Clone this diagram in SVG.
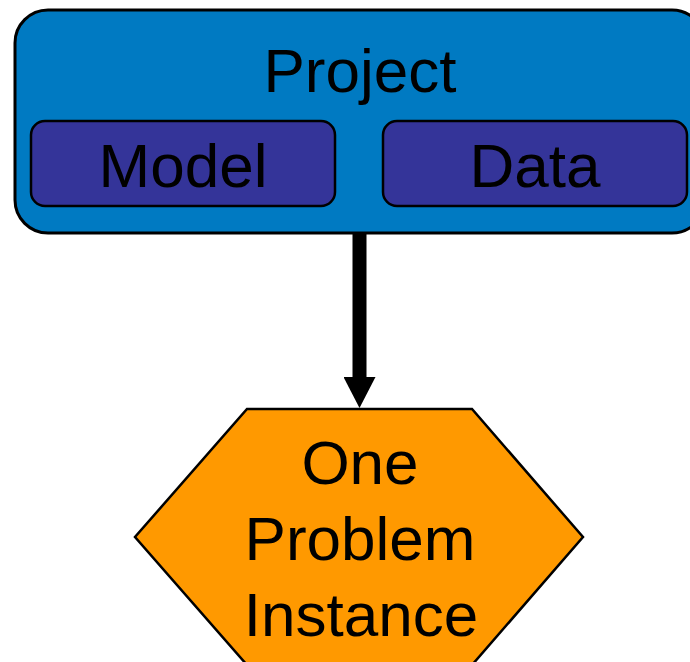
<svg xmlns="http://www.w3.org/2000/svg" width="690" height="662" viewBox="0 0 690 662">
<defs>
<style>
.lbl{font-family:"Liberation Sans",Arial,sans-serif;font-size:62px;fill:#000;text-anchor:middle}
.inner{fill:#343499;stroke:#000;stroke-width:2.5}
</style>
<marker id="ah" viewBox="0 0 31 32" refX="1" refY="16" markerWidth="31" markerHeight="32" markerUnits="userSpaceOnUse" orient="auto">
<path d="M0,0 L31,16 L0,32 Z" fill="#000"/>
</marker>
</defs>
<rect width="690" height="662" fill="#fff"/>
<g id="project">
<rect x="15" y="10" width="690" height="223" rx="33" ry="33" fill="#007AC2" stroke="#000" stroke-width="3"/>
<text class="lbl" x="360" y="92">Project</text>
</g>
<g id="model">
<rect class="inner" x="31" y="121" width="304" height="85" rx="14" ry="14"/>
<text class="lbl" x="183" y="187">Model</text>
</g>
<g id="data">
<rect class="inner" x="383" y="121" width="304" height="85" rx="14" ry="14"/>
<text class="lbl" x="535" y="187">Data</text>
</g>
<g id="connectors">
<line x1="359.5" y1="233" x2="359.5" y2="378" stroke="#000" stroke-width="14" marker-end="url(#ah)"/>
</g>
<g id="instance">
<polygon points="247,409 472,409 583,537 472,665 247,665 135,537" fill="#FF9900" stroke="#000" stroke-width="2.5"/>
<text class="lbl" x="360" y="484">One</text>
<text class="lbl" x="360" y="560">Problem</text>
<text class="lbl" x="361" y="636">Instance</text>
</g>
</svg>
